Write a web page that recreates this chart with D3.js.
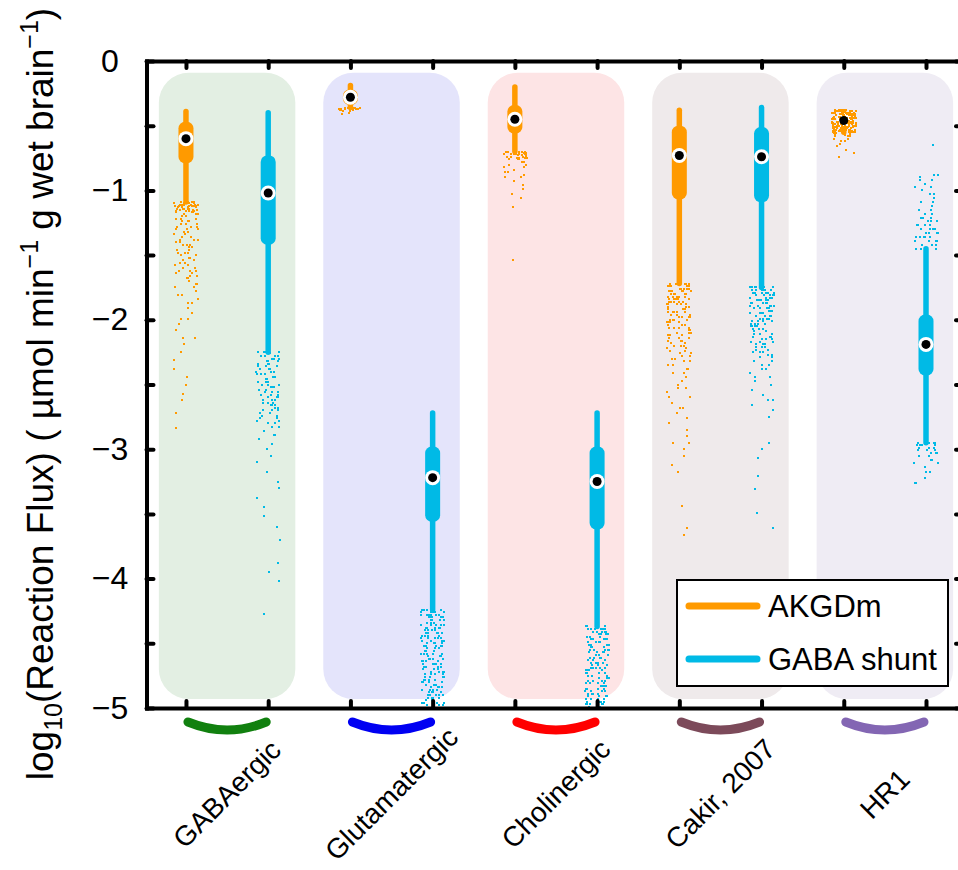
<!DOCTYPE html>
<html>
<head>
<meta charset="utf-8">
<script src="https://cdn.jsdelivr.net/npm/d3@7"></script>
<style>
  html, body { margin: 0; padding: 0; background: #ffffff; }
  svg { display: block; }
</style>
</head>
<body>
<div id="chart"></div>
<script>
// ---- data -------------------------------------------------------------
const categories = ["GABAergic", "Glutamatergic", "Cholinergic", "Cakir, 2007", "HR1"];
const seriesNames = ["AKGDm", "GABA shunt"];
const yTickLabels = [0, -1, -2, -3, -4, -5];

// box statistics, log10 flux
const akgdmWhiskerHigh = [-0.39, -0.19, -0.20, -0.38, -0.40];
const akgdmQ3          = [-0.47, -0.22, -0.34, -0.50, -0.42];
const akgdmMedian      = [-0.60, -0.28, -0.45, -0.73, -0.46];
const akgdmQ1          = [-0.79, -0.34, -0.56, -1.07, -0.51];
const akgdmWhiskerLow  = [-1.09, -0.36, -0.70, -1.72, -0.55];

const shuntWhiskerHigh = [-0.40, -2.72, -2.72, -0.36, -1.45];
const shuntQ3          = [-0.73, -2.98, -2.98, -0.51, -1.96];
const shuntMedian      = [-1.02, -3.22, -3.25, -0.74, -2.19];
const shuntQ1          = [-1.42, -3.56, -3.62, -1.09, -2.43];
const shuntWhiskerLow  = [-2.25, -4.24, -4.37, -1.75, -2.95];

// outlying samples: [log10 flux, number of samples]
const akgdmOutliers = [
  [[-1.09,7],[-1.10,7],[-1.11,6],[-1.12,6],[-1.13,5],[-1.14,5],[-1.15,4],[-1.16,4],[-1.17,3],[-1.18,3],[-1.20,3],[-1.22,3],[-1.24,3],[-1.26,3],[-1.28,3],[-1.30,3],[-1.32,2],[-1.34,3],[-1.36,2],[-1.38,3],[-1.40,2],[-1.42,3],[-1.44,2],[-1.46,2],[-1.48,3],[-1.50,2],[-1.52,2],[-1.54,3],[-1.56,2],[-1.58,2],[-1.60,2],[-1.62,3],[-1.64,2],[-1.66,2],[-1.68,2],[-1.70,2],[-1.72,2],[-1.75,2],[-1.78,1],[-1.81,2],[-1.84,1],[-1.87,2],[-1.91,1],[-1.95,1],[-1.99,2],[-2.03,1],[-2.08,1],[-2.14,2],[-2.19,1],[-2.25,1],[-2.31,1],[-2.38,1],[-2.44,1],[-2.50,1],[-2.57,1],[-2.62,1],[-2.72,1],[-2.84,1]],
  [[-0.36,6],[-0.37,5],[-0.38,3],[-0.39,2],[-0.40,1],[-0.41,1]],
  [[-0.70,7],[-0.71,6],[-0.72,6],[-0.73,5],[-0.74,4],[-0.75,4],[-0.76,3],[-0.78,2],[-0.80,2],[-0.82,2],[-0.84,1],[-0.86,2],[-0.88,1],[-0.90,2],[-0.93,1],[-0.96,1],[-0.99,1],[-1.03,1],[-1.06,1],[-1.13,1],[-1.54,1]],
  [[-1.72,6],[-1.74,6],[-1.76,6],[-1.78,6],[-1.80,5],[-1.82,6],[-1.84,5],[-1.86,5],[-1.88,5],[-1.90,5],[-1.92,4],[-1.94,5],[-1.96,4],[-1.98,4],[-2.00,4],[-2.02,4],[-2.04,3],[-2.06,4],[-2.08,3],[-2.10,3],[-2.12,3],[-2.14,3],[-2.16,3],[-2.18,2],[-2.20,3],[-2.22,2],[-2.24,3],[-2.26,2],[-2.28,2],[-2.30,2],[-2.32,2],[-2.35,2],[-2.38,2],[-2.41,2],[-2.44,1],[-2.47,2],[-2.50,1],[-2.53,2],[-2.56,1],[-2.60,2],[-2.64,1],[-2.68,2],[-2.72,1],[-2.76,1],[-2.80,1],[-2.85,1],[-2.90,1],[-2.95,2],[-3.00,1],[-3.05,1],[-3.12,1],[-3.18,1],[-3.44,1],[-3.61,1],[-3.66,1]],
  [[-0.38,9],[-0.39,10],[-0.40,10],[-0.41,10],[-0.42,10],[-0.43,10],[-0.44,10],[-0.45,10],[-0.46,10],[-0.47,10],[-0.48,10],[-0.49,10],[-0.50,10],[-0.51,10],[-0.52,9],[-0.53,9],[-0.54,8],[-0.55,7],[-0.56,6],[-0.57,3],[-0.58,3],[-0.60,2],[-0.62,2],[-0.64,1],[-0.66,1],[-0.69,1],[-0.71,1],[-0.74,1]]
];

const shuntOutliers = [
  [[-2.25,5],[-2.26,4],[-2.28,4],[-2.30,3],[-2.32,3],[-2.34,3],[-2.36,3],[-2.38,3],[-2.40,3],[-2.42,3],[-2.44,3],[-2.46,3],[-2.48,3],[-2.50,4],[-2.52,3],[-2.54,3],[-2.56,3],[-2.58,3],[-2.60,3],[-2.62,3],[-2.64,3],[-2.66,3],[-2.68,2],[-2.70,3],[-2.72,2],[-2.74,2],[-2.76,2],[-2.78,2],[-2.80,2],[-2.83,2],[-2.86,1],[-2.89,2],[-2.92,1],[-2.96,1],[-3.00,1],[-3.05,1],[-3.10,1],[-3.18,1],[-3.25,1],[-3.30,1],[-3.38,1],[-3.45,1],[-3.52,1],[-3.60,1],[-3.70,1],[-3.88,1],[-3.95,1],[-4.02,1],[-4.27,1]],
  [[-4.24,5],[-4.26,5],[-4.28,6],[-4.30,5],[-4.32,5],[-4.34,4],[-4.36,5],[-4.38,5],[-4.40,4],[-4.42,5],[-4.44,4],[-4.46,5],[-4.48,4],[-4.50,4],[-4.52,5],[-4.54,4],[-4.56,4],[-4.58,5],[-4.60,4],[-4.62,4],[-4.64,4],[-4.66,5],[-4.68,4],[-4.70,4],[-4.72,4],[-4.74,4],[-4.76,5],[-4.78,4],[-4.80,4],[-4.82,4],[-4.84,4],[-4.86,4],[-4.88,4],[-4.90,5],[-4.92,4],[-4.94,4],[-4.96,4],[-4.98,4],[-5.00,3]],
  [[-4.37,5],[-4.39,6],[-4.41,5],[-4.43,5],[-4.45,4],[-4.47,5],[-4.49,4],[-4.51,5],[-4.53,4],[-4.55,5],[-4.57,4],[-4.59,4],[-4.61,5],[-4.63,4],[-4.65,4],[-4.67,4],[-4.69,5],[-4.71,4],[-4.73,4],[-4.75,4],[-4.77,4],[-4.79,4],[-4.81,4],[-4.83,5],[-4.85,4],[-4.87,4],[-4.89,4],[-4.91,4],[-4.93,4],[-4.95,4],[-4.97,5],[-4.99,4]],
  [[-1.75,6],[-1.77,6],[-1.79,6],[-1.81,5],[-1.83,6],[-1.85,5],[-1.87,5],[-1.89,5],[-1.91,5],[-1.93,4],[-1.95,5],[-1.97,4],[-1.99,4],[-2.01,4],[-2.03,4],[-2.05,4],[-2.07,3],[-2.09,4],[-2.11,3],[-2.13,3],[-2.15,3],[-2.17,3],[-2.19,3],[-2.21,3],[-2.23,2],[-2.25,3],[-2.27,2],[-2.29,2],[-2.32,2],[-2.35,2],[-2.38,2],[-2.41,1],[-2.44,2],[-2.47,1],[-2.50,1],[-2.54,1],[-2.58,1],[-2.62,2],[-2.66,1],[-2.70,1],[-2.75,1],[-2.95,1],[-3.00,1],[-3.07,1],[-3.21,1],[-3.31,1],[-3.49,1],[-3.61,1]],
  [[-0.65,1],[-0.88,2],[-0.90,1],[-0.92,2],[-0.95,1],[-0.97,2],[-1.00,1],[-1.03,2],[-1.06,1],[-1.09,2],[-1.12,1],[-1.15,2],[-1.18,2],[-1.21,3],[-1.24,3],[-1.27,4],[-1.30,4],[-1.33,4],[-1.36,5],[-1.39,4],[-1.42,4],[-1.45,3],[-2.95,4],[-2.97,4],[-2.99,3],[-3.01,3],[-3.03,3],[-3.05,2],[-3.08,2],[-3.11,2],[-3.14,1],[-3.18,2],[-3.22,1],[-3.26,2]]
];

// ---- styling ------------------------------------------------------------
const seriesColors = ["#ff9a00", "#00bae6"];
const panelFills = ["#e3efe3", "#e4e4fb", "#fde4e5", "#efeaeb", "#efecf4"];
const braceColors = ["#11800f", "#0000f2", "#ff0000", "#7c4a5a", "#8366b3"];
const FONT = "'Liberation Sans', Arial, Helvetica, sans-serif";

const W = 958, H = 870;
const svg = d3.select("#chart").append("svg")
  .attr("width", W).attr("height", H)
  .style("font-family", FONT);

const x = d3.scaleLinear().domain([0.52, 10.45]).range([146.5, 963]);
const y = d3.scaleLinear().domain([-5, 0]).range([708, 61]);

// column position for group g / series s
const colPos = (g, s) => 2 * g + 1 + s;

// ---- group panels -------------------------------------------------------
svg.append("g").selectAll("rect")
  .data(categories)
  .join("rect")
  .attr("x", (d, g) => x(colPos(g, 0) - 0.33))
  .attr("width", (d, g) => x(colPos(g, 1) + 0.33) - x(colPos(g, 0) - 0.33))
  .attr("y", y(-0.09))
  .attr("height", y(-4.93) - y(-0.09))
  .attr("rx", 30).attr("ry", 30)
  .attr("fill", (d, g) => panelFills[g]);

// ---- boxes ----------------------------------------------------------------
const stats = [
  { hi: akgdmWhiskerHigh, q3: akgdmQ3, med: akgdmMedian, q1: akgdmQ1, lo: akgdmWhiskerLow, out: akgdmOutliers },
  { hi: shuntWhiskerHigh, q3: shuntQ3, med: shuntMedian, q1: shuntQ1, lo: shuntWhiskerLow, out: shuntOutliers }
];

const boxes = [];
stats.forEach((st, s) => {
  categories.forEach((c, g) => {
    boxes.push({ s, g, pos: colPos(g, s), hi: st.hi[g], q3: st.q3[g], med: st.med[g], q1: st.q1[g], lo: st.lo[g], out: st.out[g] });
  });
});

const plot = svg.append("g");

plot.selectAll("line.whisker")
  .data(boxes).join("line")
  .attr("class", "whisker")
  .attr("x1", d => x(d.pos)).attr("x2", d => x(d.pos))
  .attr("y1", d => y(d.hi)).attr("y2", d => y(d.lo))
  .attr("stroke", d => seriesColors[d.s])
  .attr("stroke-width", 5.5)
  .attr("stroke-linecap", "round");

const BOXW = 15;
plot.selectAll("rect.box")
  .data(boxes).join("rect")
  .attr("class", "box")
  .attr("x", d => x(d.pos) - BOXW / 2)
  .attr("width", BOXW)
  .attr("y", d => y(d.q3))
  .attr("height", d => y(d.q1) - y(d.q3))
  .attr("rx", 6.5).attr("ry", 6.5)
  .attr("fill", d => seriesColors[d.s]);

plot.selectAll("circle.ring")
  .data(boxes).join("circle")
  .attr("class", "ring")
  .attr("cx", d => x(d.pos)).attr("cy", d => y(d.med))
  .attr("r", 7.5).attr("fill", "#ffffff");

// outlying samples, spread sideways by a fixed hash of their index
const spread = (k, pos) => {
  const h = Math.sin(k * 12.9898 + pos * 78.233) * 43758.5453;
  return h - Math.floor(h);
};
const points = [];
boxes.forEach(b => {
  let k = 0;
  b.out.forEach(([v, n]) => {
    for (let j = 0; j < n; j++) {
      const u = spread(k + 1, b.pos);
      points.push({ s: b.s, pos: b.pos, v, dx: Math.round((u - 0.5) * 24) });
      k++;
    }
  });
});

plot.selectAll("rect.pt")
  .data(points).join("rect")
  .attr("class", "pt")
  .attr("x", d => Math.round(x(d.pos)) + d.dx - 1)
  .attr("y", d => Math.round(y(d.v)) - 1)
  .attr("width", 2).attr("height", 2)
  .attr("fill", d => seriesColors[d.s]);

plot.selectAll("circle.dot")
  .data(boxes).join("circle")
  .attr("class", "dot")
  .attr("cx", d => x(d.pos)).attr("cy", d => y(d.med))
  .attr("r", 4.5).attr("fill", "#000000");

// ---- axes ---------------------------------------------------------------
const halfSteps = d3.range(0, -5.001, -0.5);
const colTicks = d3.range(1, 11);

function styleAxis(sel) {
  sel.select(".domain").attr("stroke", "#000").attr("stroke-width", 4).attr("stroke-linecap", "square");
  sel.selectAll(".tick line").attr("stroke", "#000").attr("stroke-width", 4).attr("stroke-linecap", "round");
  sel.selectAll(".tick text").remove();
}

svg.append("g").attr("transform", `translate(${x.range()[0]},0)`)
  .call(d3.axisLeft(y).tickValues(halfSteps).tickSize(-7).tickSizeOuter(0).tickFormat(""))
  .call(styleAxis);
svg.append("g").attr("transform", `translate(${x.range()[1]},0)`)
  .call(d3.axisRight(y).tickValues(halfSteps).tickSize(-7).tickSizeOuter(0).tickFormat(""))
  .call(styleAxis);
svg.append("g").attr("transform", `translate(0,${y.range()[1]})`)
  .call(d3.axisTop(x).tickValues(colTicks).tickSize(-7).tickSizeOuter(0).tickFormat(""))
  .call(styleAxis);
svg.append("g").attr("transform", `translate(0,${y.range()[0]})`)
  .call(d3.axisBottom(x).tickValues(colTicks).tickSize(-7).tickSizeOuter(0).tickFormat(""))
  .call(styleAxis);

// y tick labels
svg.append("g").selectAll("text")
  .data(yTickLabels).join("text")
  .attr("x", 110).attr("y", d => y(d))
  .attr("dy", "0.33em")
  .attr("text-anchor", "middle")
  .attr("font-size", 32)
  .attr("fill", "#000")
  .text(d => d === 0 ? "0" : "\u2212" + Math.abs(d));

// y axis title
const title = svg.append("text")
  .attr("transform", "translate(53,394) rotate(-90)")
  .attr("text-anchor", "middle")
  .attr("font-size", 37)
  .attr("fill", "#000");
title.append("tspan").text("log");
title.append("tspan").attr("font-size", 25).attr("dy", 9).text("10");
title.append("tspan").attr("dy", -9).text("(Reaction Flux) ( \u00b5mol min");
title.append("tspan").attr("font-size", 25).attr("dy", -15).text("\u22121");
title.append("tspan").attr("dy", 15).text(" g wet brain");
title.append("tspan").attr("font-size", 25).attr("dy", -15).text("\u22121");
title.append("tspan").attr("dy", 15).text(")");

// ---- group braces and labels -------------------------------------------
svg.append("g").selectAll("path")
  .data(categories).join("path")
  .attr("d", (d, g) => {
    const x1 = x(colPos(g, 0)) + 2, x2 = x(colPos(g, 1)) - 2, xm = (x1 + x2) / 2;
    return `M${x1},722 Q${xm},738 ${x2},722`;
  })
  .attr("fill", "none")
  .attr("stroke", (d, g) => braceColors[g])
  .attr("stroke-width", 9)
  .attr("stroke-linecap", "round");

svg.append("g").selectAll("text")
  .data(categories).join("text")
  .attr("transform", (d, g) => `translate(${(x(colPos(g, 0)) + x(colPos(g, 1))) / 2},794) rotate(-45)`)
  .attr("text-anchor", "middle")
  .attr("dominant-baseline", "central")
  .attr("font-size", 28)
  .attr("fill", "#000")
  .text(d => d);

// ---- legend -------------------------------------------------------------
const legend = svg.append("g");
legend.append("rect")
  .attr("x", 677).attr("y", 580).attr("width", 271).attr("height", 106)
  .attr("fill", "#fff").attr("stroke", "#000").attr("stroke-width", 2);
const legendRows = legend.selectAll("g.row")
  .data(seriesNames).join("g")
  .attr("class", "row")
  .attr("transform", (d, i) => `translate(0,${i === 0 ? 606 : 659})`);
legendRows.append("line")
  .attr("x1", 689).attr("x2", 757).attr("y1", 0).attr("y2", 0)
  .attr("stroke", (d, i) => seriesColors[i])
  .attr("stroke-width", 7).attr("stroke-linecap", "round");
legendRows.append("text")
  .attr("x", 768).attr("y", 0).attr("dy", "0.36em")
  .attr("font-size", 31).attr("fill", "#000")
  .text(d => d);
</script>
</body>
</html>
